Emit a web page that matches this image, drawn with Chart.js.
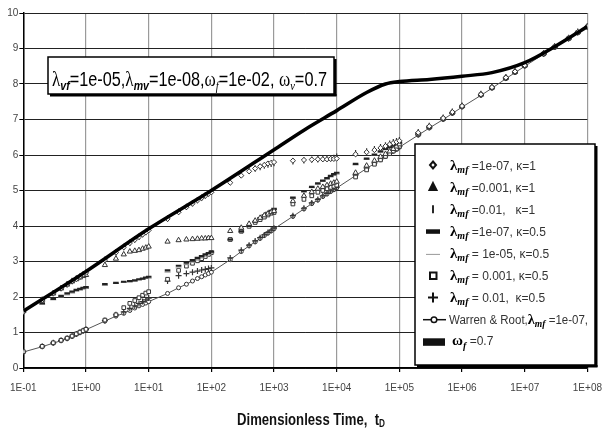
<!DOCTYPE html>
<html>
<head>
<meta charset="utf-8">
<script src="https://cdn.jsdelivr.net/npm/chart.js@4.4.1/dist/chart.umd.min.js"></script>
<style>
  html, body { margin: 0; padding: 0; background: #fff; }
</style>
</head>
<body>
<canvas id="chart" width="612" height="434"></canvas>
<script>
// dimensionless time (shared by the marker series)
const tD = [
  0.1, 0.2, 0.3, 0.4, 0.5, 0.6, 0.7, 0.8, 0.9,
  1, 2, 3, 4, 5, 6, 7, 8, 9,
  10, 20, 30, 40, 50, 60, 70, 80, 90,
  100, 200, 300, 400, 500, 600, 700, 800, 900,
  1e3, 2e3, 3e3, 4e3, 5e3, 6e3, 7e3, 8e3, 9e3,
  1e4, 2e4, 3e4, 4e4, 5e4, 6e4, 7e4, 8e4, 9e4,
  1e5, 2e5, 3e5, 5e5, 7e5,
  1e6, 2e6, 3e6, 5e6, 7e6,
  1e7, 2e7, 3e7, 5e7, 7e7,
  1e8
];

// lambda_mf = 1e-07, kappa = 1  (diamonds)
const pDia = [
  1.58, 1.91, 2.10, 2.24, 2.35, 2.44, 2.51, 2.57, 2.63,
  2.68, 3.04, 3.25, 3.40, 3.52, 3.61, 3.69, 3.76, 3.82,
  3.88, 4.20, 4.39, 4.53, 4.63, 4.72, 4.79, 4.85, 4.91,
  4.95, 5.22, 5.42, 5.54, 5.62, 5.68, 5.72, 5.76, 5.78,
  5.80, 5.84, 5.86, 5.87, 5.88, 5.88, 5.88, 5.89, 5.89,
  5.90, 6.02, 6.08, 6.14, 6.20, 6.25, 6.30, 6.34, 6.37,
  6.40, 6.63, 6.81, 7.04, 7.21,
  7.38, 7.71, 7.91, 8.18, 8.35,
  8.53, 8.86, 9.05, 9.29, 9.46,
  9.62
];
// lambda_mf = 0.001, kappa = 1  (triangles)
const pTri = [
  1.60, 1.92, 2.10, 2.24, 2.35, 2.44, 2.50, 2.55, 2.59,
  2.62, 2.90, 3.08, 3.20, 3.28, 3.30, 3.32, 3.36, 3.39,
  3.42, 3.56, 3.60, 3.62, 3.63, 3.64, 3.65, 3.65, 3.66,
  3.66, 3.86, 3.95, 4.06, 4.15, 4.23, 4.30, 4.35, 4.39,
  4.42, 4.70, 4.85, 4.96, 5.05, 5.10, 5.15, 5.19, 5.22,
  5.25, 5.50, 5.70, 5.84, 5.95, 6.03, 6.10, 6.17, 6.24,
  6.30, 6.60, 6.79, 7.03, 7.20,
  7.38, 7.70, 7.90, 8.18, 8.35,
  8.52, 8.86, 9.05, 9.29, 9.46,
  9.62
];
// lambda_mf = 0.01, kappa = 1  (bars)
const pBar = [
  1.59, 1.92, 2.11, 2.25, 2.36, 2.45, 2.52, 2.58, 2.64,
  2.69, 3.05, 3.26, 3.41, 3.53, 3.62, 3.70, 3.77, 3.83,
  3.89, 4.21, 4.40, 4.54, 4.64, 4.73, 4.80, 4.86, 4.92,
  4.96, 5.25, 5.45, 5.56, 5.62, 5.66, 5.70, 5.73, 5.75,
  5.77, 5.82, 5.85, 5.87, 5.88, 5.89, 5.90, 5.91, 5.92,
  5.95, 6.05, 6.10, 6.16, 6.22, 6.27, 6.32, 6.36, 6.39,
  6.42, 6.64, 6.82, 7.05, 7.22,
  7.39, 7.72, 7.92, 8.19, 8.36,
  8.54, 8.87, 9.06, 9.30, 9.47,
  9.63
];
// lambda_mf = 1e-07, kappa = 0.5  (thick dashes)
const pDash = [
  1.60, 1.82, 1.95, 2.03, 2.10, 2.15, 2.20, 2.23, 2.26,
  2.28, 2.36, 2.40, 2.43, 2.45, 2.47, 2.50, 2.52, 2.55,
  2.57, 2.75, 2.88, 2.97, 3.04, 3.10, 3.15, 3.20, 3.24,
  3.28, 3.62, 3.85, 4.00, 4.12, 4.22, 4.30, 4.37, 4.43,
  4.48, 4.80, 4.98, 5.10, 5.20, 5.28, 5.35, 5.41, 5.46,
  5.50, 5.75, 5.90, 6.01, 6.10, 6.17, 6.22, 6.27, 6.31,
  6.35, 6.62, 6.80, 7.03, 7.19,
  7.36, 7.69, 7.89, 8.16, 8.33,
  8.51, 8.85, 9.04, 9.28, 9.45,
  9.61
];
// lambda_mf = 1e-05, kappa = 0.5  (thin grey dashes)
const pThin = [
  1.60, 1.80, 1.92, 2.00, 2.06, 2.11, 2.16, 2.19, 2.22,
  2.24, 2.33, 2.38, 2.41, 2.43, 2.45, 2.48, 2.50, 2.52,
  2.53, 2.70, 2.82, 2.91, 2.98, 3.04, 3.10, 3.15, 3.20,
  3.24, 3.60, 3.83, 3.98, 4.10, 4.20, 4.28, 4.35, 4.40,
  4.45, 4.78, 4.96, 5.08, 5.18, 5.26, 5.32, 5.38, 5.42,
  5.46, 5.72, 5.88, 5.99, 6.08, 6.15, 6.20, 6.25, 6.29,
  6.33, 6.60, 6.79, 7.02, 7.18,
  7.35, 7.68, 7.88, 8.15, 8.32,
  8.50, 8.84, 9.03, 9.27, 9.44,
  9.60
];
// lambda_mf = 0.001, kappa = 0.5  (squares)
const pSq = [
  0.46, 0.61, 0.71, 0.78, 0.84, 0.90, 0.96, 1.01, 1.05,
  1.09, 1.35, 1.50, 1.70, 1.82, 1.90, 1.98, 2.05, 2.11,
  2.15, 2.50, 2.75, 2.87, 2.95, 3.02, 3.08, 3.14, 3.20,
  3.25, 3.62, 3.85, 3.99, 4.10, 4.18, 4.25, 4.31, 4.36,
  4.38, 4.62, 4.75, 4.85, 4.95, 5.00, 5.05, 5.09, 5.12,
  5.15, 5.38, 5.58, 5.74, 5.86, 5.96, 6.04, 6.11, 6.17,
  6.24, 6.58, 6.78, 7.02, 7.19,
  7.37, 7.70, 7.90, 8.17, 8.34,
  8.52, 8.85, 9.04, 9.28, 9.45,
  9.61
];
// lambda_mf = 0.01, kappa = 0.5  (plus)
const pPlus = [
  0.46, 0.61, 0.71, 0.78, 0.84, 0.90, 0.96, 1.01, 1.05,
  1.09, 1.34, 1.50, 1.58, 1.68, 1.75, 1.82, 1.87, 1.92,
  1.97, 2.45, 2.60, 2.66, 2.70, 2.73, 2.76, 2.78, 2.80,
  2.82, 3.10, 3.32, 3.46, 3.58, 3.67, 3.75, 3.82, 3.88,
  3.94, 4.29, 4.50, 4.65, 4.75, 4.85, 4.92, 4.99, 5.04,
  5.09, 5.44, 5.64, 5.78, 5.89, 5.98, 6.06, 6.13, 6.18,
  6.24, 6.58, 6.78, 7.02, 7.19,
  7.37, 7.70, 7.90, 8.17, 8.34,
  8.52, 8.85, 9.04, 9.28, 9.45,
  9.61
];
// Warren & Root, lambda_mf = 1e-07
const pWR = [
  0.45, 0.60, 0.70, 0.77, 0.83, 0.89, 0.95, 1.00, 1.04,
  1.08, 1.32, 1.46, 1.54, 1.62, 1.69, 1.75, 1.79, 1.83,
  1.87, 2.10, 2.26, 2.36, 2.45, 2.52, 2.57, 2.62, 2.66,
  2.70, 3.05, 3.28, 3.44, 3.55, 3.65, 3.73, 3.80, 3.86,
  3.92, 4.27, 4.48, 4.63, 4.73, 4.83, 4.90, 4.97, 5.02,
  5.07, 5.42, 5.62, 5.76, 5.87, 5.96, 6.04, 6.11, 6.16,
  6.22, 6.56, 6.76, 7.00, 7.17,
  7.35, 7.68, 7.88, 8.15, 8.32,
  8.50, 8.84, 9.03, 9.27, 9.44,
  9.60
];
// omega_f = 0.7 (thick solid line)
const tThick = [0.1, 1, 10, 100, 1e3, 3e3, 1e4, 3e4, 6e4, 1e5, 3e5, 1e6, 3e6, 1e7, 3e7, 1e8];
const pThick = [1.60, 2.72, 3.92, 5.00, 6.15, 6.70, 7.25, 7.76, 8.00, 8.07, 8.13, 8.22, 8.32, 8.60, 9.05, 9.62];

const xTicks = [0.1, 1, 10, 100, 1e3, 1e4, 1e5, 1e6, 1e7, 1e8];
const xTickLabels = ['1E-01', '1E+00', '1E+01', '1E+02', '1E+03', '1E+04', '1E+05', '1E+06', '1E+07', '1E+08'];

const SANS = "'Liberation Sans Narrow', 'Liberation Sans', Arial, sans-serif";
const pts = (xs, ys) => xs.map((x, i) => ({ x: x, y: ys[i] }));

function markers(data, style, extra) {
  return Object.assign({
    data: data,
    showLine: false,
    pointStyle: style,
    pointRadius: 2.5,
    pointBackgroundColor: '#fff',
    pointBorderColor: '#333',
    pointBorderWidth: 1
  }, extra || {});
}

const datasets = [
  { data: pts(tThick, pThick), showLine: true, borderColor: '#000', borderWidth: 3.5,
    pointRadius: 0, cubicInterpolationMode: 'monotone' },
  markers(pts(tD, pDia), 'rectRot', { pointRadius: 2.6 }),
  markers(pts(tD, pTri), 'triangle', { pointRadius: 3 }),
  markers(pts(tD, pBar), 'line', { pointRadius: 3.2, pointRotation: 90, pointBorderWidth: 1.2 }),
  markers(pts(tD, pDash), 'line', { pointRadius: 2.8, pointBorderWidth: 2.2, pointBorderColor: '#222' }),
  markers(pts(tD, pThin), 'line', { pointRadius: 3, pointBorderWidth: 1, pointBorderColor: '#999' }),
  markers(pts(tD, pSq), 'rect', { pointRadius: 2.6 }),
  markers(pts(tD, pPlus), 'cross', { pointRadius: 3, pointBorderWidth: 1.2 }),
  markers(pts(tD, pWR), 'circle', { showLine: true, borderColor: '#555', borderWidth: 1, pointRadius: 2 })
];

// draws a run of differently styled text pieces, squeezed to a given width if asked
function textRun(ctx, x, y, parts, width) {
  let w = 0;
  parts.forEach(p => { ctx.font = p[1]; w += ctx.measureText(p[0]).width; });
  const sx = width ? width / w : 1;
  ctx.save();
  ctx.translate(x, y);
  ctx.scale(sx, 1);
  let cx = 0;
  parts.forEach(p => {
    ctx.font = p[1];
    ctx.fillStyle = p[3] || '#000';
    ctx.fillText(p[0], cx, p[2] || 0);
    cx += ctx.measureText(p[0]).width;
  });
  ctx.restore();
}

function shadowBox(ctx, x, y, w, h) {
  ctx.fillStyle = '#fff';
  ctx.fillRect(x, y, w, h);
  ctx.strokeStyle = '#000';
  ctx.lineWidth = 1.5;
  ctx.strokeRect(x, y, w, h);
  ctx.fillStyle = '#000';
  ctx.fillRect(x + w, y + 2, 2.5, h);
  ctx.fillRect(x + 2, y + h, w + 0.5, 2.5);
}

function legendSymbol(ctx, kind, x, y) {
  ctx.save();
  ctx.strokeStyle = '#111';
  ctx.fillStyle = '#111';
  ctx.lineWidth = 2;
  ctx.beginPath();
  if (kind === 'diamond') {
    ctx.moveTo(x, y - 3.5); ctx.lineTo(x + 3, y); ctx.lineTo(x, y + 3.5); ctx.lineTo(x - 3, y); ctx.closePath();
    ctx.stroke();
  } else if (kind === 'triangle') {
    ctx.moveTo(x, y - 4); ctx.lineTo(x + 3.5, y + 3); ctx.lineTo(x - 3.5, y + 3); ctx.closePath();
    ctx.fill(); ctx.stroke();
  } else if (kind === 'bar') {
    ctx.lineWidth = 1.8;
    ctx.moveTo(x, y - 4); ctx.lineTo(x, y + 4); ctx.stroke();
  } else if (kind === 'dash') {
    ctx.fillRect(x - 7, y - 2, 14, 4.5);
  } else if (kind === 'thin') {
    ctx.strokeStyle = '#999'; ctx.lineWidth = 1;
    ctx.moveTo(x - 7, y + 1); ctx.lineTo(x + 7, y + 1); ctx.stroke();
  } else if (kind === 'square') {
    ctx.strokeRect(x - 3, y - 3, 6.5, 6.5);
  } else if (kind === 'plus') {
    ctx.moveTo(x - 5, y); ctx.lineTo(x + 5, y); ctx.moveTo(x, y - 5); ctx.lineTo(x, y + 5); ctx.stroke();
  } else if (kind === 'wr') {
    ctx.lineWidth = 1.5;
    ctx.moveTo(x - 10, y); ctx.lineTo(x + 13, y); ctx.stroke();
    ctx.beginPath(); ctx.fillStyle = '#fff'; ctx.arc(x + 1, y, 2.8, 0, Math.PI * 2); ctx.fill(); ctx.stroke();
  } else if (kind === 'block') {
    ctx.fillRect(x - 10, y - 3.5, 22, 7.5);
  }
  ctx.restore();
}

const legendRows = [
  ['diamond', ' =1e-07, \u03ba=1'],
  ['triangle', ' =0.001, \u03ba=1'],
  ['bar', ' =0.01,   \u03ba=1'],
  ['dash', ' =1e-07, \u03ba=0.5'],
  ['thin', ' = 1e-05, \u03ba=0.5'],
  ['square', ' = 0.001, \u03ba=0.5'],
  ['plus', ' = 0.01,  \u03ba=0.5'],
  ['wr', null],
  ['block', null]
];

const overlay = {
  id: 'overlay',
  afterDraw(chart) {
    const ctx = chart.ctx;
    ctx.save();
    ctx.textBaseline = 'alphabetic';

    // parameter box
    shadowBox(ctx, 48, 57, 286, 37);
    const serif = "'Liberation Serif', 'Times New Roman', serif";
    const sans = "'Liberation Sans', Arial, sans-serif";
    textRun(ctx, 52, 86, [
      ['\u03bb', '21px ' + serif], ['vf', 'bold italic 13px ' + sans, 4], ['=1e-05,', '20px ' + sans],
      ['\u03bb', '21px ' + serif], ['mv', 'bold italic 13px ' + sans, 4], ['=1e-08,', '20px ' + sans],
      ['\u03c9', '21px ' + serif], ['f', 'italic 13px ' + serif, 4], ['=1e-02, ', '20px ' + sans],
      ['\u03c9', '21px ' + serif], ['v', 'italic 13px ' + serif, 4], ['=0.7', '20px ' + sans]
    ], 275);

    // legend
    shadowBox(ctx, 415, 144, 180, 221);
    legendRows.forEach((r, i) => {
      const y = 165 + i * 22.1;
      legendSymbol(ctx, r[0], 433, y);
      const lam = [['\u03bb', 'bold 15px ' + serif, 0, '#000'], ['mf', 'bold italic 10px ' + serif, 3, '#000']];
      if (r[1]) {
        textRun(ctx, 450, y + 4.5, lam.concat([[r[1], '12px ' + sans, 0, '#333']]));
      } else if (r[0] === 'wr') {
        textRun(ctx, 449, y + 4.5, [['Warren & Root,', '12px ' + sans, 0, '#333']].concat(lam, [[' =1e-07,', '12px ' + sans, 0, '#333']]), 139);
      } else {
        textRun(ctx, 452, y + 3.5, [['\u03c9', 'bold 15px ' + serif, 0, '#000'], ['f', 'bold italic 10px ' + serif, 3.5, '#000'], [' =0.7', '12px ' + sans, 0, '#333']]);
      }
    });

    // axis title
    textRun(ctx, 237, 425, [
      ['Dimensionless Time,  t', 'bold 16px ' + sans, 0, '#111'],
      ['D', 'bold 10px ' + sans, 2, '#111']
    ], 148);
    ctx.restore();
  }
};

new Chart(document.getElementById('chart'), {
  type: 'scatter',
  data: { datasets: datasets },
  options: {
    responsive: false,
    animation: false,
    layout: { padding: { top: 13, right: 14, left: 0, bottom: 0 } },
    plugins: { legend: { display: false }, tooltip: { enabled: false } },
    scales: {
      x: {
        type: 'logarithmic',
        min: 0.1,
        max: 1e8,
        afterBuildTicks: s => { s.ticks = xTicks.map(v => ({ value: v })); },
        afterFit: s => { s.height = 66; },
        ticks: {
          callback: (v, i) => xTickLabels[i],
          color: '#444', font: { family: SANS, size: 10 }, padding: 10,
          maxRotation: 0, autoSkip: false
        },
        grid: { color: '#9a9a9a', lineWidth: 1.2, tickLength: 4, tickColor: '#000' },
        border: { color: '#000', width: 1.5 }
      },
      y: {
        min: 0,
        max: 10,
        afterFit: s => { s.width = 23; },
        ticks: { stepSize: 1, color: '#444', font: { family: SANS, size: 10 }, padding: 1 },
        grid: { color: '#222', lineWidth: 1, tickLength: 4, tickColor: '#000' },
        border: { color: '#000', width: 1.5 }
      }
    }
  },
  plugins: [overlay]
});
</script>
</body>
</html>
